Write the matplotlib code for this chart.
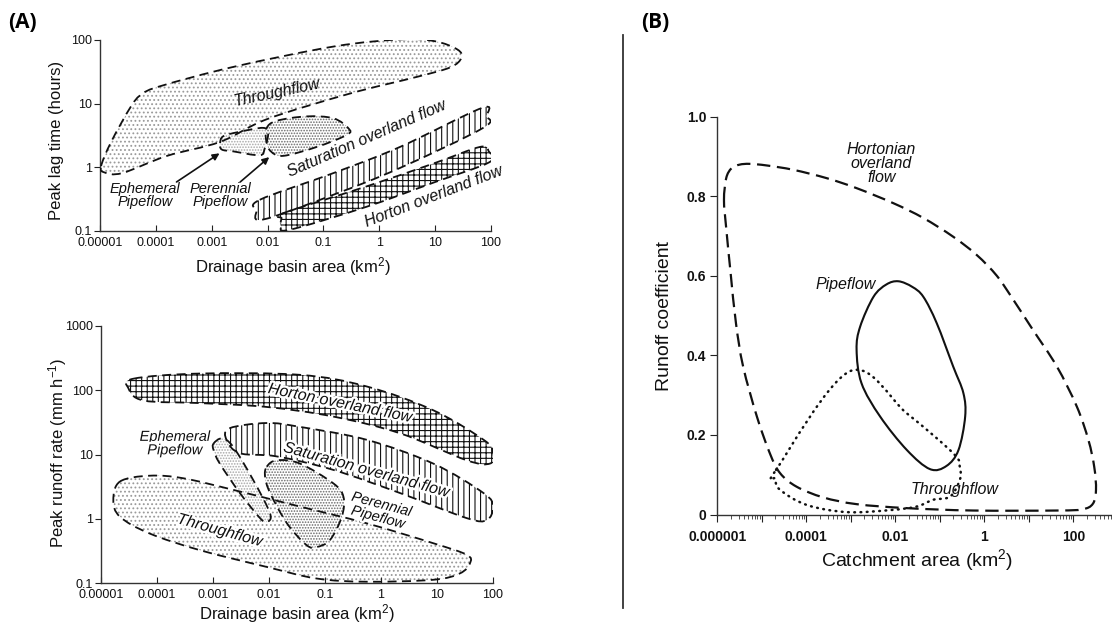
import numpy as np
import matplotlib
matplotlib.use('Agg')
import matplotlib.pyplot as plt
import matplotlib.patheffects as pe
from matplotlib.path import Path
from matplotlib.patches import PathPatch
from matplotlib.lines import Line2D
from matplotlib.ticker import FixedLocator, FixedFormatter, NullLocator

plt.rcParams['font.family'] = ['Liberation Sans', 'DejaVu Sans']
plt.rcParams['mathtext.fontset'] = 'custom'
plt.rcParams['mathtext.rm'] = 'Liberation Sans'
plt.rcParams['mathtext.it'] = 'Liberation Sans:italic'
plt.rcParams['hatch.linewidth'] = 0.8

# ------------------------------------------------------------------
# Panel A (top): peak lag time (hours) vs drainage basin area (km2)
# outlines as log10(area), log10(lag)
# ------------------------------------------------------------------
lag_xticks = [1e-5, 1e-4, 1e-3, 1e-2, 1e-1, 1, 10, 100]
lag_xticklabels = ['0.00001', '0.0001', '0.001', '0.01', '0.1', '1', '10', '100']
lag_yticks = [0.1, 1, 10, 100]
lag_yticklabels = ['0.1', '1', '10', '100']

lag_through_lx = [-4.98, -4.80, -4.45, -4.25, -3.90, -2.60, -0.80, 0.40, 1.00, 1.40, 1.47,
                  1.27, 0.67, -0.52, -2.00, -2.85, -3.80, -4.60, -4.92]
lag_through_ly = [0.02, 0.40, 0.95, 1.15, 1.28, 1.58, 1.90, 2.01, 1.98, 1.85, 1.72,
                  1.57, 1.42, 1.16, 0.76, 0.40, 0.18, -0.09, -0.08]

lag_ephem_lx = [-2.85, -2.79, -2.49, -2.08, -1.99, -2.05, -2.14, -2.61, -2.82]
lag_ephem_ly = [0.38, 0.49, 0.56, 0.62, 0.53, 0.30, 0.19, 0.25, 0.28]

lag_peren_lx = [-2.02, -1.84, -1.30, -0.82, -0.55, -0.58, -1.12, -1.72, -1.94, -2.02]
lag_peren_ly = [0.61, 0.73, 0.80, 0.77, 0.61, 0.51, 0.32, 0.18, 0.25, 0.40]

lag_sat_lx = [-2.14, -0.82, 0.37, 1.83, 1.92, 1.86, 0.37, -0.82, -2.08, -2.20]
lag_sat_ly = [-0.51, -0.09, 0.32, 0.93, 0.80, 0.62, -0.01, -0.43, -0.82, -0.68]

lag_hort_lx = [-1.72, -0.23, 0.97, 1.80, 1.96, 1.97, 0.97, -0.23, -1.60, -1.76, -1.75]
lag_hort_ly = [-0.72, -0.30, 0.06, 0.32, 0.25, 0.08, -0.24, -0.62, -0.98, -0.92, -0.80]

# ------------------------------------------------------------------
# Panel A (bottom): peak runoff rate (mm/h) vs drainage basin area
# ------------------------------------------------------------------
rate_xticks = lag_xticks
rate_xticklabels = lag_xticklabels
rate_yticks = [0.1, 1, 10, 100, 1000]
rate_yticklabels = ['0.1', '1', '10', '100', '1000']

rate_hort_lx = [-4.42, -3.23, -1.45, -0.26, 0.93, 1.83, 2.00, 1.95, 1.53, 0.34, -0.85,
                -2.04, -3.23, -4.24, -4.51]
rate_hort_ly = [2.18, 2.26, 2.24, 2.06, 1.69, 1.23, 1.04, 0.86, 0.91, 1.33, 1.59,
                1.74, 1.80, 1.84, 2.03]

rate_sat_lx = [-2.70, -2.04, -1.45, -0.26, 0.93, 1.83, 2.00, 1.89, 1.53, 0.34, -0.85,
               -1.86, -2.52, -2.76]
rate_sat_ly = [1.41, 1.49, 1.43, 1.23, 0.86, 0.40, 0.19, -0.02, 0.01, 0.40, 0.76,
               0.97, 1.02, 1.23]

rate_ephem_lx = [-2.99, -2.84, -2.64, -2.28, -1.98, -2.04, -2.16, -2.52, -2.88, -2.99]
rate_ephem_ly = [1.17, 1.25, 1.12, 0.60, 0.08, -0.05, 0.01, 0.40, 0.86, 1.07]

rate_peren_lx = [-2.04, -1.86, -1.45, -0.85, -0.67, -0.70, -0.91, -1.15, -1.33, -1.68,
                 -1.98, -2.07]
rate_peren_ly = [0.81, 0.91, 0.86, 0.55, 0.34, 0.03, -0.33, -0.44, -0.41, -0.07,
                 0.40, 0.65]

rate_through_lx = [-4.66, -4.13, -3.53, -2.64, -1.45, -0.26, 0.93, 1.53, 1.59, 1.41,
                   0.93, -0.26, -1.15, -2.04, -3.23, -4.13, -4.66, -4.78]
rate_through_ly = [0.58, 0.67, 0.63, 0.45, 0.19, -0.07, -0.38, -0.56, -0.69, -0.85,
                   -0.95, -0.98, -0.93, -0.75, -0.49, -0.23, 0.03, 0.29]

# ------------------------------------------------------------------
# Panel B: runoff coefficient vs catchment area (log10 area, coefficient)
# ------------------------------------------------------------------
coef_xticks = [1e-6, 1e-5, 1e-4, 1e-3, 1e-2, 1e-1, 1, 10, 100, 1000]
coef_xticklabels = ['0.000001', '', '0.0001', '', '0.01', '', '1', '', '100', '']
coef_yticks = [0, 0.2, 0.4, 0.6, 0.8, 1.0]
coef_yticklabels = ['0', '0.2', '0.4', '0.6', '0.8', '1.0']

coef_hort_lx = [-5.85, -5.80, -5.68, -5.50, -5.27, -4.89, -4.29, -3.54, -2.87, -2.04,
                -1.37, -0.70, -0.17, 0.28, 0.62, 1.08, 1.63, 2.08, 2.34, 2.47, 2.51,
                2.44, 2.20, 1.63, -0.25, -1.74, -2.87, -3.62, -4.22, -4.59, -4.82,
                -5.11, -5.42, -5.58, -5.70, -5.80]
coef_hort_y = [0.790, 0.845, 0.870, 0.879, 0.881, 0.877, 0.866, 0.845, 0.820, 0.782,
               0.745, 0.698, 0.652, 0.600, 0.545, 0.466, 0.372, 0.271, 0.187, 0.120,
               0.062, 0.027, 0.013, 0.010, 0.010, 0.016, 0.026, 0.043, 0.070, 0.104,
               0.154, 0.246, 0.372, 0.480, 0.606, 0.720]

coef_pipe_lx = [-1.93, -1.62, -1.37, -1.07, -0.70, -0.47, -0.43, -0.58, -0.85, -1.22,
                -1.74, -2.34, -2.76, -2.87, -2.79, -2.49, -2.20]
coef_pipe_y = [0.586, 0.572, 0.547, 0.481, 0.372, 0.305, 0.246, 0.162, 0.122, 0.114,
               0.162, 0.246, 0.330, 0.414, 0.472, 0.547, 0.578]

coef_through_lx = [-4.68, -3.02, -1.74, -0.70, -0.55, -0.55, -0.77, -1.15, -1.52,
                   -2.12, -3.09, -3.99, -4.59, -4.70]
coef_through_y = [0.112, 0.360, 0.254, 0.154, 0.120, 0.087, 0.045, 0.037, 0.020,
                  0.011, 0.006, 0.024, 0.062, 0.090]


def blob_path(lx, ly, ylog=True):
    """Closed smooth outline through the read points (Catmull-Rom as cubic Beziers)."""
    P = np.column_stack([lx, ly]).astype(float)
    n = len(P)
    verts = [P[0]]
    codes = [Path.MOVETO]
    for i in range(n):
        p0, p1, p2, p3 = P[i - 1], P[i], P[(i + 1) % n], P[(i + 2) % n]
        verts += [p1 + (p2 - p0) / 6.0, p2 - (p3 - p1) / 6.0, p2]
        codes += [Path.CURVE4] * 3
    verts.append(P[0])
    codes.append(Path.CLOSEPOLY)
    v = np.array(verts)
    X = 10.0 ** v[:, 0]
    Y = 10.0 ** v[:, 1] if ylog else v[:, 1]
    return Path(np.column_stack([X, Y]), codes)


def region(ax, path, hatch=None, hcolor='k', ls=(0, (5, 3)), lw=1.3, z=1, face='white'):
    if hatch is not None:
        ax.add_patch(PathPatch(path, facecolor=face, edgecolor=hcolor, hatch=hatch,
                               lw=0, zorder=z))
    ax.add_patch(PathPatch(path, fill=False, edgecolor='#111111', lw=lw, linestyle=ls,
                           zorder=5, capstyle='butt'))


def style_axes(ax, xt, xtl, yt, ytl, size, weight='normal'):
    ax.set_xscale('log')
    for s in ('top', 'right'):
        ax.spines[s].set_visible(False)
    for s in ('left', 'bottom'):
        ax.spines[s].set_color('#333333')
        ax.spines[s].set_linewidth(1.0)
    ax.xaxis.set_major_locator(FixedLocator(xt))
    ax.xaxis.set_major_formatter(FixedFormatter(xtl))
    ax.yaxis.set_major_locator(FixedLocator(yt))
    ax.yaxis.set_major_formatter(FixedFormatter(ytl))
    ax.tick_params(labelsize=size, colors='#222222', labelcolor='#111111')
    for lab in ax.get_xticklabels() + ax.get_yticklabels():
        lab.set_fontweight(weight)


W, H = 1112, 625
fig = plt.figure(figsize=(W / 100, H / 100), dpi=100)

halo = [pe.withStroke(linewidth=3.5, foreground='white')]
lab_kw = dict(fontsize=11.5, style='italic', color='#111111', ha='center', va='center',
              zorder=8)
small_kw = dict(lab_kw, fontsize=10.5, linespacing=0.95)

# ---------------- Panel A top ----------------
ax1 = fig.add_axes([100 / W, 1 - 231 / H, 391 / W, 191 / H])
ax1.set_yscale('log')
style_axes(ax1, lag_xticks, lag_xticklabels, lag_yticks, lag_yticklabels, 9)
ax1.set_xlim(1e-5, 100)
ax1.set_ylim(0.1, 100)
ax1.xaxis.set_minor_locator(NullLocator())
ax1.yaxis.set_minor_locator(NullLocator())
ax1.tick_params(axis='x', direction='in', length=4, pad=4)
ax1.tick_params(axis='y', direction='out', length=4, pad=2)

region(ax1, blob_path(lag_through_lx, lag_through_ly), '....', '#9a9a9a')
region(ax1, blob_path(lag_ephem_lx, lag_ephem_ly), '......', '#a8a8a8', z=2)
region(ax1, blob_path(lag_peren_lx, lag_peren_ly), '......', '#6a6a6a', z=2)
region(ax1, blob_path(lag_sat_lx, lag_sat_ly), '|||', '#111111', z=2)
region(ax1, blob_path(lag_hort_lx, lag_hort_ly), '+++', '#111111', z=2)

ax1.text(10 ** -1.83, 10 ** 1.18, 'Throughflow', rotation=12, **lab_kw)
ax1.text(10 ** -0.22, 10 ** 0.45, 'Saturation overland flow', rotation=23.5, **lab_kw)
ax1.text(10 ** 0.97, 10 ** -0.46, 'Horton overland flow', rotation=21, **lab_kw)
ax1.text(10 ** -4.19, 10 ** -0.44, 'Ephemeral\nPipeflow', **small_kw)
ax1.text(10 ** -2.85, 10 ** -0.44, 'Perennial\nPipeflow', **small_kw)
arrow_tails = [(-3.63, -0.23), (-2.49, -0.23)]
arrow_heads = [(-2.86, 0.22), (-1.97, 0.16)]
for (tx, ty), (hx, hy) in zip(arrow_tails, arrow_heads):
    ax1.annotate('', xy=(10 ** hx, 10 ** hy), xytext=(10 ** tx, 10 ** ty),
                 arrowprops=dict(arrowstyle='-|>', color='#111111', lw=1.2,
                                 mutation_scale=10, shrinkA=0, shrinkB=0), zorder=7)

ax1.set_xlabel('Drainage basin area (km$^2$)', fontsize=12, va='center', color='#111111')
ax1.xaxis.set_label_coords(0.494, -0.188)
ax1.set_ylabel('Peak lag time (hours)', fontsize=12, va='center', color='#111111')
ax1.yaxis.set_label_coords(-0.110, 0.476)

# ---------------- Panel A bottom ----------------
ax2 = fig.add_axes([101 / W, 1 - 583 / H, 392 / W, 257 / H])
ax2.set_yscale('log')
style_axes(ax2, rate_xticks, rate_xticklabels, rate_yticks, rate_yticklabels, 9)
ax2.set_xlim(1e-5, 100)
ax2.set_ylim(0.1, 1000)
ax2.xaxis.set_minor_locator(NullLocator())
ax2.yaxis.set_minor_locator(NullLocator())
ax2.tick_params(axis='x', direction='in', length=4, pad=4)
ax2.tick_params(axis='y', direction='out', length=4, pad=2)

region(ax2, blob_path(rate_through_lx, rate_through_ly), '....', '#9a9a9a')
region(ax2, blob_path(rate_ephem_lx, rate_ephem_ly), '......', '#a8a8a8', z=2)
region(ax2, blob_path(rate_peren_lx, rate_peren_ly), '......', '#6a6a6a', z=2)
region(ax2, blob_path(rate_sat_lx, rate_sat_ly), '|||', '#111111', z=2)
region(ax2, blob_path(rate_hort_lx, rate_hort_ly), '+++', '#111111', z=2)

ax2.text(10 ** -0.73, 10 ** 1.80, 'Horton overland flow', rotation=-11.5,
         path_effects=halo, **lab_kw)
ax2.text(10 ** -0.26, 10 ** 0.76, 'Saturation overland flow', rotation=-15.5,
         path_effects=halo, **lab_kw)
ax2.text(10 ** -3.68, 10 ** 1.17, 'Ephemeral\nPipeflow', path_effects=halo, **small_kw)
ax2.text(10 ** -0.02, 10 ** 0.12, 'Perennial\nPipeflow', rotation=-15,
         path_effects=halo, **small_kw)
ax2.text(10 ** -2.88, 10 ** -0.18, 'Throughflow', rotation=-15.5, path_effects=halo,
         **lab_kw)

ax2.set_xlabel('Drainage basin area (km$^2$)', fontsize=12, va='center', color='#111111')
ax2.xaxis.set_label_coords(0.499, -0.12)
ax2.set_ylabel('Peak runoff rate (mm h$^{-1}$)', fontsize=12, va='center', color='#111111')
ax2.yaxis.set_label_coords(-0.112, 0.506)

# ---------------- Panel B ----------------
ax3 = fig.add_axes([717.3 / W, 1 - 514.5 / H, 400.5 / W, 398 / H])
style_axes(ax3, coef_xticks, coef_xticklabels, coef_yticks, coef_yticklabels, 10,
           weight='bold')
ax3.set_xlim(1e-6, 1e3)
ax3.set_ylim(0, 1.0)
minor = [m * 10.0 ** e for e in range(-6, 3) for m in range(2, 10)]
ax3.xaxis.set_minor_locator(FixedLocator(minor))
ax3.tick_params(axis='x', which='major', direction='out', length=5, pad=6)
ax3.tick_params(axis='x', which='minor', direction='out', length=3, color='#333333')
ax3.tick_params(axis='y', direction='out', length=5, pad=3)

ax3.add_patch(PathPatch(blob_path(coef_hort_lx, coef_hort_y, ylog=False), fill=False,
                        edgecolor='#111111', lw=1.6, linestyle=(0, (6, 3)), zorder=5))
ax3.add_patch(PathPatch(blob_path(coef_pipe_lx, coef_pipe_y, ylog=False), fill=False,
                        edgecolor='#111111', lw=1.5, zorder=5))
ax3.add_patch(PathPatch(blob_path(coef_through_lx, coef_through_y, ylog=False), fill=False,
                        edgecolor='#111111', lw=1.8, linestyle=(0, (0.3, 2.2)),
                        capstyle='round', zorder=5))

bkw = dict(fontsize=11.5, style='italic', color='#111111', ha='center', va='center')
ax3.text(10 ** -2.31, 0.881, 'Hortonian\noverland\nflow', linespacing=0.92, **bkw)
ax3.text(10 ** -3.11, 0.577, 'Pipeflow', **bkw)
ax3.text(10 ** -0.66, 0.062, 'Throughflow', **bkw)

ax3.set_xlabel('Catchment area (km$^2$)', fontsize=14, va='center', color='#111111')
ax3.xaxis.set_label_coords(0.4986, -0.114)
ax3.set_ylabel('Runoff coefficient', fontsize=14, va='center', color='#111111')
ax3.yaxis.set_label_coords(-0.131, 0.499)

# divider and panel letters
fig.add_artist(Line2D([623 / W, 623 / W], [1 - 35 / H, 1 - 608 / H], color='#333333', lw=1.3))
fig.text(22 / W, 1 - 22 / H, '(A)', ha='center', va='center', fontsize=15,
         fontweight='bold', family=['Open Sans', 'DejaVu Sans'])
fig.text(655 / W, 1 - 22 / H, '(B)', ha='center', va='center', fontsize=15,
         fontweight='bold', family=['Open Sans', 'DejaVu Sans'])

fig.savefig('out.png', dpi=100)
